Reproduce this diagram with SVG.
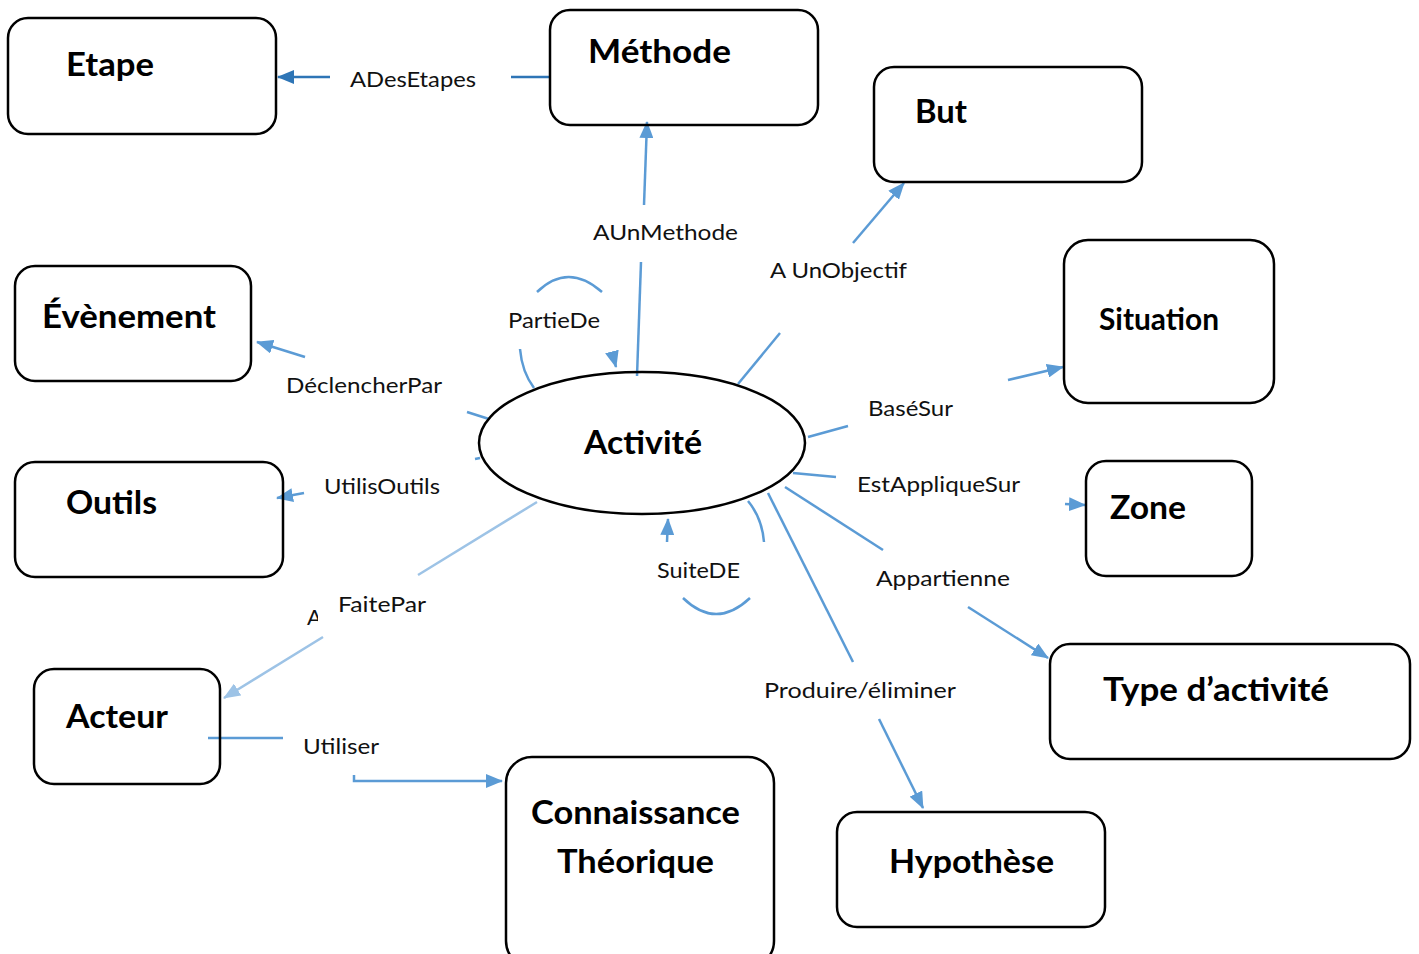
<svg xmlns="http://www.w3.org/2000/svg" width="1419" height="954" viewBox="0 0 1419 954">
<style>
.box{fill:none;stroke:#000;stroke-width:2.5}
.t{font-family:Lato,"Open Sans","Liberation Sans",sans-serif;font-weight:bold;font-size:33px;fill:#000}
.ts{font-family:Lato,"Open Sans","Liberation Sans",sans-serif;font-weight:bold;font-size:30px;fill:#000}
.l{font-family:Lato,"Open Sans","Liberation Sans",sans-serif;font-size:22px;fill:#111}
.c{fill:none;stroke:#5B9BD5;stroke-width:2.5}
.cd{fill:none;stroke:#2E75B6;stroke-width:2.5}
.cl{fill:none;stroke:#9DC3E6;stroke-width:2.5}
</style>
<defs>
<marker id="a" markerUnits="userSpaceOnUse" markerWidth="18" markerHeight="14" refX="16" refY="7" orient="auto"><path d="M0,0 L17,7 L0,14 z" fill="#5B9BD5"/></marker>
<marker id="ad" markerUnits="userSpaceOnUse" markerWidth="18" markerHeight="14" refX="16" refY="7" orient="auto"><path d="M0,0 L17,7 L0,14 z" fill="#2E75B6"/></marker>
<marker id="al" markerUnits="userSpaceOnUse" markerWidth="18" markerHeight="14" refX="16" refY="7" orient="auto"><path d="M0,0 L17,7 L0,14 z" fill="#9DC3E6"/></marker>
<clipPath id="clipA"><rect x="300" y="595" width="18" height="40"/></clipPath>
</defs>
<rect width="1419" height="954" fill="#fff"/>

<g id="connectors">
<!-- ADesEtapes -->
<line class="cd" x1="549" y1="77" x2="511" y2="77"/>
<line class="cd" x1="330" y1="77" x2="278" y2="77" marker-end="url(#ad)"/>
<!-- AUnMethode -->
<line class="c" x1="637" y1="376" x2="641" y2="262"/>
<line class="c" x1="644" y1="205" x2="647" y2="122" marker-end="url(#a)"/>
<!-- A UnObjectif -->
<line class="c" x1="738" y1="384" x2="780" y2="333"/>
<line class="c" x1="853" y1="243" x2="904" y2="183" marker-end="url(#a)"/>
<!-- PartieDe loop -->
<path class="c" d="M520,349 Q522,372 534,388"/>
<path class="c" d="M537,292 Q568,262 602,292"/>
<path class="c" d="M612,352 L616,367" marker-end="url(#a)"/>
<!-- DeclencherPar -->
<line class="c" x1="489" y1="419" x2="467" y2="412"/>
<line class="c" x1="305" y1="357" x2="257" y2="342" marker-end="url(#a)"/>
<!-- UtilisOutils -->
<line class="c" x1="475" y1="459" x2="480" y2="458"/>
<line class="c" x1="304" y1="493" x2="277" y2="498" marker-end="url(#a)"/>
<!-- FaitePar -->
<line class="cl" x1="537" y1="502" x2="418" y2="575"/>
<line class="cl" x1="323" y1="637" x2="224" y2="698" marker-end="url(#al)"/>
<!-- SuiteDE loop -->
<path class="c" d="M748,501 Q762,518 764,542"/>
<path class="c" d="M683,598 Q716,630 750,598"/>
<line class="c" x1="667" y1="542" x2="668" y2="519" marker-end="url(#a)"/>
<!-- BaseSur -->
<line class="c" x1="808" y1="437" x2="848" y2="426"/>
<line class="c" x1="1008" y1="380" x2="1063" y2="367" marker-end="url(#a)"/>
<!-- EstAppliqueSur -->
<line class="c" x1="793" y1="473" x2="836" y2="477"/>
<line class="c" x1="1065" y1="504" x2="1085" y2="505" marker-end="url(#a)"/>
<!-- Appartienne -->
<line class="c" x1="785" y1="487" x2="883" y2="550"/>
<line class="c" x1="968" y1="607" x2="1048" y2="658" marker-end="url(#a)"/>
<!-- Produire/eliminer -->
<line class="c" x1="768" y1="493" x2="853" y2="662"/>
<line class="c" x1="879" y1="719" x2="923" y2="808" marker-end="url(#a)"/>
<!-- Utiliser -->
<line class="c" x1="208" y1="738" x2="283" y2="738"/>
<path class="c" d="M354,775 L354,781 L502,781" marker-end="url(#a)"/>
</g>

<g id="labels">
<text class="l" x="350" y="87" textLength="126" lengthAdjust="spacingAndGlyphs">ADesEtapes</text>
<text class="l" x="593" y="240" textLength="145" lengthAdjust="spacingAndGlyphs">AUnMethode</text>
<text class="l" x="770" y="278" textLength="137" lengthAdjust="spacingAndGlyphs">A UnObjectif</text>
<text class="l" x="508" y="328" textLength="92" lengthAdjust="spacingAndGlyphs">PartieDe</text>
<text class="l" x="286" y="393" textLength="156" lengthAdjust="spacingAndGlyphs">DéclencherPar</text>
<text class="l" x="868" y="416" textLength="85" lengthAdjust="spacingAndGlyphs">BaséSur</text>
<text class="l" x="324" y="494" textLength="116" lengthAdjust="spacingAndGlyphs">UtilisOutils</text>
<text class="l" x="857" y="492" textLength="163" lengthAdjust="spacingAndGlyphs">EstAppliqueSur</text>
<text class="l" x="657" y="578" textLength="83" lengthAdjust="spacingAndGlyphs">SuiteDE</text>
<text class="l" x="876" y="586" textLength="134" lengthAdjust="spacingAndGlyphs">Appartienne</text>
<text class="l" x="338" y="612" textLength="88" lengthAdjust="spacingAndGlyphs">FaitePar</text>
<text class="l" x="307" y="625" clip-path="url(#clipA)">A</text>
<text class="l" x="764" y="698" textLength="192" lengthAdjust="spacingAndGlyphs">Produire/éliminer</text>
<text class="l" x="303" y="754" textLength="76" lengthAdjust="spacingAndGlyphs">Utiliser</text>
</g>

<g id="etape"><rect class="box" x="8" y="18" width="268" height="116" rx="20"/><text class="t" x="66" y="76" textLength="88" lengthAdjust="spacingAndGlyphs">Etape</text></g>
<g id="methode"><rect class="box" x="550" y="10" width="268" height="115" rx="20"/><text class="t" x="588" y="63" textLength="143" lengthAdjust="spacingAndGlyphs">Méthode</text></g>
<g id="but"><rect class="box" x="874" y="67" width="268" height="115" rx="20"/><text class="t" x="915" y="123" textLength="52" lengthAdjust="spacingAndGlyphs">But</text></g>
<g id="evenement"><rect class="box" x="15" y="266" width="236" height="115" rx="20"/><text class="t" x="42" y="328" textLength="174" lengthAdjust="spacingAndGlyphs">Évènement</text></g>
<g id="situation"><rect class="box" x="1064" y="240" width="210" height="163" rx="24"/><text class="ts" x="1099" y="330" textLength="120" lengthAdjust="spacingAndGlyphs">Situation</text></g>
<g id="outils"><rect class="box" x="15" y="462" width="268" height="115" rx="20"/><text class="t" x="66" y="514" textLength="91" lengthAdjust="spacingAndGlyphs">Outils</text></g>
<g id="zone"><rect class="box" x="1086" y="461" width="166" height="115" rx="20"/><text class="t" x="1110" y="519" textLength="76" lengthAdjust="spacingAndGlyphs">Zone</text></g>
<g id="acteur"><rect class="box" x="34" y="669" width="186" height="115" rx="20"/><text class="t" x="66" y="728" textLength="102" lengthAdjust="spacingAndGlyphs">Acteur</text></g>
<g id="type"><rect class="box" x="1050" y="644" width="360" height="115" rx="20"/><text class="t" x="1103" y="701" textLength="226" lengthAdjust="spacingAndGlyphs">Type d’activité</text></g>
<g id="connaissance"><rect class="box" x="506" y="757" width="268" height="210" rx="26"/><text class="t" x="531" y="824" textLength="209" lengthAdjust="spacingAndGlyphs">Connaissance</text><text class="t" x="557" y="873" textLength="157" lengthAdjust="spacingAndGlyphs">Théorique</text></g>
<g id="hypothese"><rect class="box" x="837" y="812" width="268" height="115" rx="20"/><text class="t" x="889" y="873" textLength="165" lengthAdjust="spacingAndGlyphs">Hypothèse</text></g>
<g id="activite"><ellipse cx="642" cy="443" rx="163" ry="71" fill="none" stroke="#000" stroke-width="2.5"/><text class="t" x="584" y="454" textLength="118" lengthAdjust="spacingAndGlyphs">Activité</text></g>
</svg>
